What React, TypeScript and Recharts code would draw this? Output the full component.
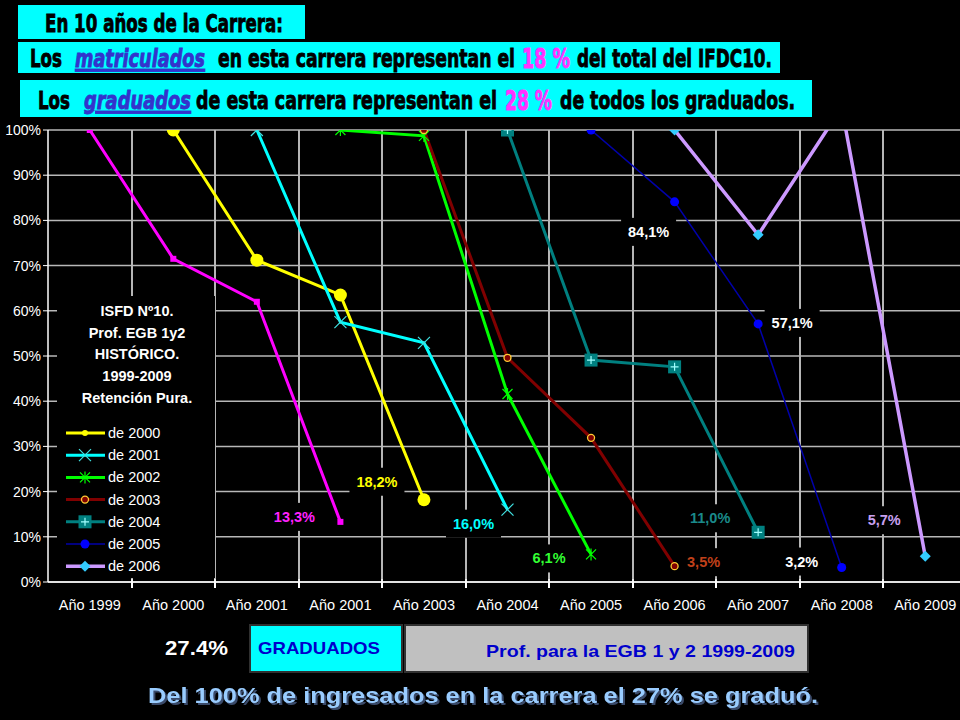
import React from 'react';
import { LineChart, Line, XAxis, YAxis, CartesianGrid } from 'recharts';

// categories (x axis) - the original repeats "Año 2001"
const YEARS = ['Año 1999', 'Año 2000', 'Año 2001', 'Año 2001', 'Año 2003', 'Año 2004', 'Año 2005', 'Año 2006', 'Año 2007', 'Año 2008', 'Año 2009'];
const Y_TICKS = [0, 10, 20, 30, 40, 50, 60, 70, 80, 90, 100];

// retention per cohort (% of entrants still enrolled), starting at the cohort's first year
const C1999 = [100, 71.5, 62.0, 13.3];
const C2000 = [100, 71.2, 63.5, 18.2];
const C2001 = [100, 57.5, 52.9, 16.0];
const C2002 = [100, 98.7, 41.6, 6.1];
const C2003 = [100, 49.6, 31.9, 3.5];
const C2004 = [100, 49.1, 47.6, 11.0];
const C2005 = [100, 84.1, 57.1, 3.2];
const C2006 = [100, 76.8, 105.0, 5.7];

type Lab = { i: number; dx: number; dy: number; color: string };
type Series = {
    key: string; name: string; values: number[]; start: number;
    color: string; width: number; marker: string; markerColor: string; legend: boolean; labels: Lab[];
};

const SERIES: Series[] = [
    { key: 's1999', name: 'de 1999', values: C1999, start: 0, color: '#ff00ff', width: 3, marker: 'square', markerColor: '#ff00ff', legend: false,
        labels: [{ i: 3, dx: -46, dy: -5, color: '#ff22ff' }] },
    { key: 's2000', name: 'de 2000', values: C2000, start: 1, color: '#ffff00', width: 3, marker: 'circle', markerColor: '#ffff00', legend: true,
        labels: [{ i: 4, dx: -47, dy: -18, color: '#ffff00' }] },
    { key: 's2001', name: 'de 2001', values: C2001, start: 2, color: '#00ffff', width: 3, marker: 'x', markerColor: '#40e0e0', legend: true,
        labels: [{ i: 5, dx: -34, dy: 14, color: '#00ffff' }] },
    { key: 's2002', name: 'de 2002', values: C2002, start: 3, color: '#00ff00', width: 3, marker: 'star', markerColor: '#00ff00', legend: true,
        labels: [{ i: 6, dx: -42, dy: 4, color: '#33ff33' }] },
    { key: 's2003', name: 'de 2003', values: C2003, start: 4, color: '#800000', width: 3, marker: 'ring', markerColor: '#800000', legend: true,
        labels: [{ i: 7, dx: 29, dy: -4, color: '#c0401a' }] },
    { key: 's2004', name: 'de 2004', values: C2004, start: 5, color: '#008080', width: 3, marker: 'boxplus', markerColor: '#008080', legend: true,
        labels: [{ i: 8, dx: -48, dy: -14, color: '#1a8a8a' }] },
    { key: 's2005', name: 'de 2005', values: C2005, start: 6, color: '#0000aa', width: 1.5, marker: 'dot', markerColor: '#0000ff', legend: true,
        labels: [
            { i: 7, dx: -26, dy: 30, color: '#ffffff' },
            { i: 8, dx: 34, dy: -1, color: '#ffffff' },
            { i: 9, dx: -40, dy: -6, color: '#ffffff' },
        ] },
    { key: 's2006', name: 'de 2006', values: C2006, start: 7, color: '#cc99ff', width: 3.5, marker: 'diamond', markerColor: '#33ccff', legend: true,
        labels: [{ i: 10, dx: -41, dy: -36, color: '#c8a0f0' }] },
];

const data = YEARS.map((label, x) => {
    const row: Record<string, any> = { x, label };
    SERIES.forEach((s) => {
        const k = x - s.start;
        row[s.key] = k >= 0 && k < s.values.length ? s.values[k] : null;
    });
    return row;
});

const CENTERS = YEARS.map((_, i) => i);

// chart layout
const CHART_W = 972;
const CHART_H = 640;
const MARGIN = { top: 130, right: 5, left: 0, bottom: 22 };
const Y_AXIS_W = 48;
const X_AXIS_H = 36;
const PLOT_LEFT = MARGIN.left + Y_AXIS_W;
const PLOT_W = CHART_W - PLOT_LEFT - MARGIN.right;
const PLOT_TOP = MARGIN.top;
const PLOT_BOTTOM = CHART_H - MARGIN.bottom - X_AXIS_H;
const BAND = PLOT_W / YEARS.length;
// vertical grid lines sit on the category boundaries (Excel style)
const V_GRID = YEARS.map((_, i) => Math.round(PLOT_LEFT + (i + 1) * BAND));

const fmt = (v: number) => v.toFixed(1).replace('.', ',') + '%';

function Marker({ type, x, y, color, small }: { type: string; x: number; y: number; color: string; small?: boolean }) {
    switch (type) {
        case 'square':
            return <rect x={x - 3} y={y - 3} width={6} height={6} fill={color} />;
        case 'circle': {
            const r = small ? 3 : 6.5;
            return <circle cx={x} cy={y} r={r} fill={color} />;
        }
        case 'x':
            return <path d={`M${x - 6},${y - 6}L${x + 6},${y + 6}M${x + 6},${y - 6}L${x - 6},${y + 6}`} stroke={color} strokeWidth={1.2} />;
        case 'star':
            return <path d={`M${x - 5},${y - 5}L${x + 5},${y + 5}M${x + 5},${y - 5}L${x - 5},${y + 5}M${x},${y - 6}L${x},${y + 6}`} stroke={color} strokeWidth={1.2} />;
        case 'ring':
            return <circle cx={x} cy={y} r={3.5} fill={color} stroke="#ffcc33" strokeWidth={1.3} />;
        case 'boxplus':
            return (
                <g>
                    <rect x={x - 6.5} y={y - 6.5} width={13} height={13} fill={color} />
                    <path d={`M${x - 4},${y}L${x + 4},${y}M${x},${y - 4}L${x},${y + 4}`} stroke="#a0ffff" strokeWidth={1.2} />
                </g>
            );
        case 'dot':
            return <circle cx={x} cy={y} r={4.5} fill={color} />;
        case 'diamond':
            return <path d={`M${x},${y - 5.5}L${x + 5.5},${y}L${x},${y + 5.5}L${x - 5.5},${y}Z`} fill={color} />;
        default:
            return null;
    }
}

const renderDot = (s: Series) => (p: any) => {
    if (p.cx == null || p.cy == null || p.value == null) return <g key={`${s.key}-d${p.index}`} />;
    return (
        <g key={`${s.key}-d${p.index}`}>
            <Marker type={s.marker} x={p.cx} y={p.cy} color={s.markerColor} />
        </g>
    );
};

const renderLabel = (s: Series) => (p: any) => {
    const lab = s.labels.find((l) => l.i === p.index);
    if (!lab || p.value == null || p.x == null || p.y == null) return <g key={`${s.key}-l${p.index}`} />;
    const x = p.x + lab.dx;
    const y = p.y + lab.dy;
    const txt = fmt(Number(p.value));
    const w = txt.length * 9 + 10;
    return (
        <g key={`${s.key}-l${p.index}`}>
            <rect x={x - w / 2} y={y - 14} width={w} height={28} fill="#000" />
            <text x={x} y={y + 5} textAnchor="middle" fill={lab.color} fontSize={14.5} fontWeight="bold">{txt}</text>
        </g>
    );
};

// x tick: category label in the middle, tick mark on the right-hand boundary
const XTick = (p: any) => {
    const bx = Math.round(p.x + BAND / 2);
    return (
        <g>
            <rect x={bx - 0.75} y={PLOT_BOTTOM - 3} width={1.5} height={9} fill="#ffffff" />
            <text x={p.x} y={PLOT_BOTTOM + 28} textAnchor="middle" fill="#fff" fontSize={14.5}>{YEARS[p.payload?.value] ?? ''}</text>
        </g>
    );
};

// plain-DOM copy of the vertical grid, drawn under the (transparent) chart surface
const GridUnderlay: React.FC = () => (
    <>
        {V_GRID.map((gx) => (
            <div key={`v${gx}`} style={{ position: 'absolute', left: gx - 0.75, top: PLOT_TOP, width: 1.5, height: PLOT_BOTTOM - PLOT_TOP, background: '#b0b0b0' }} />
        ))}
        {V_GRID.map((gx) => (
            <div key={`t${gx}`} style={{ position: 'absolute', left: gx - 0.75, top: PLOT_BOTTOM, width: 1.5, height: 6, background: '#ffffff' }} />
        ))}
    </>
);

const TITLE = ['ISFD  Nº10.', 'Prof. EGB 1y2', 'HISTÓRICO.', '1999-2009', 'Retención Pura.'];

const Overlay: React.FC = () => {
    const legendItems = SERIES.filter((s) => s.legend);
    const hdr = { fontWeight: 'bold' as const, fontFamily: '"DejaVu Sans", "Liberation Sans", sans-serif', stroke: '#000', strokeWidth: 0.9 };
    const blueWord = { ...hdr, fill: '#3333cc', stroke: '#3333cc', fontStyle: 'italic' as const, textDecoration: 'underline' };
    const pink = { ...hdr, fill: '#ff33ff', stroke: '#ff33ff' };
    return (
        <svg width={960} height={720} style={{ position: 'absolute', left: 0, top: 0, pointerEvents: 'none' }}>
            {/* headers */}
            <rect x={18} y={5} width={287} height={34} fill="#00ffff" />
            <text x={45} y={32} textLength={238} lengthAdjust="spacingAndGlyphs" fontSize={25} style={hdr} fill="#000">En 10 años de la Carrera:</text>

            <rect x={18} y={42} width={762} height={31} fill="#00ffff" />
            <text x={30} y={67} textLength={32} lengthAdjust="spacingAndGlyphs" fontSize={25} style={hdr} fill="#000">Los</text>
            <text x={75} y={67} textLength={130} lengthAdjust="spacingAndGlyphs" fontSize={25} style={blueWord}>matriculados</text>
            <text x={218} y={67} textLength={297} lengthAdjust="spacingAndGlyphs" fontSize={25} style={hdr} fill="#000">en esta carrera representan el</text>
            <text x={522} y={68} textLength={48} lengthAdjust="spacingAndGlyphs" fontSize={27} style={pink}>18 %</text>
            <text x={577} y={67} textLength={195} lengthAdjust="spacingAndGlyphs" fontSize={25} style={hdr} fill="#000">del total  del IFDC10.</text>

            <rect x={20} y={80} width={792} height={37} fill="#00ffff" />
            <text x={38} y={109} textLength={32} lengthAdjust="spacingAndGlyphs" fontSize={25} style={hdr} fill="#000">Los</text>
            <text x={84} y={109} textLength={107} lengthAdjust="spacingAndGlyphs" fontSize={25} style={blueWord}>graduados</text>
            <text x={196} y={109} textLength={301} lengthAdjust="spacingAndGlyphs" fontSize={25} style={hdr} fill="#000">de esta carrera representan el</text>
            <text x={505} y={110} textLength={47} lengthAdjust="spacingAndGlyphs" fontSize={27} style={pink}>28 %</text>
            <text x={560} y={109} textLength={235} lengthAdjust="spacingAndGlyphs" fontSize={25} style={hdr} fill="#000">de todos los graduados.</text>

            {/* legend / note box */}
            <rect x={57} y={296} width={158} height={282} fill="#000" />
            {TITLE.map((t, i) => (
                <text key={t} x={137} y={316 + i * 21.7} textAnchor="middle" fill="#fff" fontSize={14.5} fontWeight="bold">{t}</text>
            ))}
            {legendItems.map((s, i) => {
                const cy = 433 + i * 22.2;
                return (
                    <g key={s.key}>
                        <line x1={66} x2={105} y1={cy} y2={cy} stroke={s.color} strokeWidth={s.width} />
                        <Marker type={s.marker} x={85} y={cy} color={s.markerColor} small />
                        <text x={108} y={cy + 5} fill="#fff" fontSize={14.5}>{s.name}</text>
                    </g>
                );
            })}

            {/* bottom boxes */}
            <text x={165} y={655} textLength={63} lengthAdjust="spacingAndGlyphs" fill="#fff" fontSize={20} fontWeight="bold">27.4%</text>
            <rect x={250} y={625} width={152} height={47} fill="#00ffff" stroke="#303030" strokeWidth={2} />
            <text x={258} y={654} textLength={122} lengthAdjust="spacingAndGlyphs" fill="#0000cc" fontSize={17} fontWeight="bold">GRADUADOS</text>
            <rect x={405} y={625} width={403} height={47} fill="#c0c0c0" stroke="#303030" strokeWidth={2} />
            <text x={486} y={657} textLength={309} lengthAdjust="spacingAndGlyphs" fill="#0000cc" fontSize={17} fontWeight="bold">Prof. para la EGB 1 y 2 1999-2009</text>

            <text x={148} y={703} textLength={670} lengthAdjust="spacingAndGlyphs" fill="#99ccff" fontSize={22} fontWeight="bold"
                style={{ filter: 'drop-shadow(2px 2px 0px #3a4a6a)' }}>Del 100% de ingresados en la carrera el 27% se graduó.</text>
        </svg>
    );
};

const App: React.FC = () => {
    return (
        <div style={{ position: 'absolute', left: 0, top: 0, width: 960, height: 720, background: '#000', overflow: 'hidden', fontFamily: '"Liberation Sans", Arial, sans-serif' }}>
            <GridUnderlay />
            <div style={{ position: 'absolute', left: 0, top: 0 }}>
                <LineChart width={CHART_W} height={CHART_H} data={data} margin={MARGIN}>
                    <CartesianGrid stroke="#b8b8b8" strokeWidth={1.5} verticalPoints={V_GRID} />
                    <XAxis
                        type="number"
                        dataKey="x"
                        domain={[-0.5, YEARS.length - 0.5]}
                        ticks={CENTERS}
                        interval={0}
                        allowDataOverflow
                        axisLine={{ stroke: '#fff', strokeWidth: 1.5 }}
                        tickLine={false}
                        height={X_AXIS_H}
                        tick={XTick}
                    />
                    <YAxis
                        type="number"
                        domain={[0, 100]}
                        ticks={Y_TICKS}
                        interval={0}
                        allowDataOverflow
                        width={Y_AXIS_W}
                        tick={{ fill: '#fff', fontSize: 14 }}
                        tickFormatter={(v: number) => `${v}%`}
                        axisLine={{ stroke: '#fff', strokeWidth: 1.5 }}
                        tickLine={{ stroke: '#fff' }}
                        tickSize={5}
                    />
                    {SERIES.map((s) => (
                        <Line
                            key={s.key}
                            type="linear"
                            dataKey={s.key}
                            name={s.name}
                            stroke={s.color}
                            strokeWidth={s.width}
                            dot={renderDot(s)}
                            activeDot={false}
                            label={renderLabel(s)}
                            isAnimationActive={false}
                        />
                    ))}
                </LineChart>
            </div>
            <Overlay />
        </div>
    );
};

export default App;
